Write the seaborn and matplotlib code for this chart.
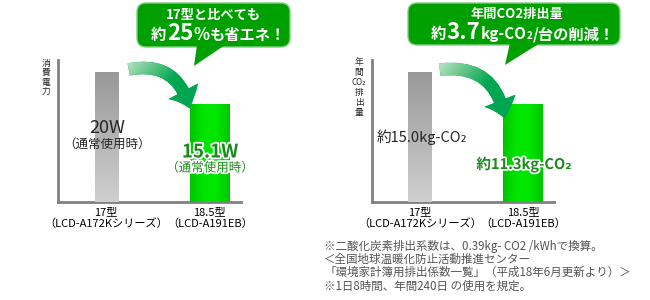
import numpy as np
import pandas as pd
import matplotlib
matplotlib.use("Agg")
import matplotlib.pyplot as plt
import seaborn as sns
from matplotlib.patches import FancyBboxPatch, Polygon, FancyArrowPatch
from matplotlib.colors import LinearSegmentedColormap
import matplotlib.patheffects as pe

sns.set_theme(style="white")
plt.rcParams['font.family'] = ['Noto Sans CJK JP', 'DejaVu Sans']

# ---- data ----
models = ["17型\n（LCD-A172Kシリーズ）", "18.5型\n（LCD-A191EB）"]
power_w = [20.0, 15.1]
co2_kg = [15.0, 11.3]
power_labels = ["20W", "15.1W"]
co2_labels = ["約15.0kg-CO₂", "約11.3kg-CO₂"]
usage_note = "（通常使用時）"
callout_left_title = "17型と比べても"
callout_left = ["約", "25", "%", "も省エネ！"]
callout_right_title = "年間CO2排出量"
callout_right = ["約", "3.7", "kg-CO", "2", "/台の削減！"]
ylabel_left = ["消", "費", "電", "力"]
ylabel_right = ["年", "間", "CO₂", "排", "出", "量"]
footnotes = [
    "※二酸化炭素排出系数は、0.39kg- CO2 /kWhで換算。",
    "＜全国地球温暖化防止活動推進センター",
    "「環境家計簿用排出係数一覧」（平成18年6月更新より）＞",
    "※1日8時間、年間240日 の使用を規定。",
]

W, H = 650, 300
fig = plt.figure(figsize=(6.5, 3.0), dpi=100)
fig.patch.set_facecolor("white")

GREEN_BOX = "#00a000"
GREEN_TXT = "#1a8a1a"


def px_axes(x0, y0, x1, y1):
    return fig.add_axes([x0 / W, 1 - y1 / H, (x1 - x0) / W, (y1 - y0) / H])


def bar_panel(ax, values, ylim_top, widths):
    df = pd.DataFrame({"model": models, "value": values})
    sns.barplot(data=df, x="model", y="value", hue="model",
                palette=["#b0b0b0", "#00dd00"], legend=False, ax=ax,
                saturation=1, width=0.3)
    ax.set_xlim(-0.466, 1.301)
    ax.set_ylim(0, ylim_top)
    patches = sorted([p for p in ax.patches], key=lambda p: p.get_x())
    grad_gray = LinearSegmentedColormap.from_list("g", ["#999999", "#cfcfcf"])
    grad_green = LinearSegmentedColormap.from_list(
        "gr", ["#00c400", "#00e600", "#00e600", "#00c400"])
    for i, p in enumerate(patches):
        cx = p.get_x() + p.get_width() / 2
        p.set_width(widths[i])
        p.set_x(cx - widths[i] / 2)
        p.set_linewidth(0)
        x0, x1 = p.get_x(), p.get_x() + p.get_width()
        y0, y1 = 0, p.get_height()
        if i == 0:
            img = np.linspace(0, 1, 100).reshape(-1, 1)
            im = ax.imshow(img, cmap=grad_gray, extent=(x0, x1, y0, y1),
                           origin="upper", aspect="auto", zorder=3)
        else:
            img = np.linspace(0, 1, 100).reshape(1, -1)
            im = ax.imshow(img, cmap=grad_green, extent=(x0, x1, y0, y1),
                           origin="upper", aspect="auto", zorder=3)
        im.set_clip_path(p)
    ax.set_xlim(-0.466, 1.301)
    ax.set_ylim(0, ylim_top)
    for s in ["top", "right"]:
        ax.spines[s].set_visible(False)
    for s in ["left", "bottom"]:
        ax.spines[s].set_color("#808080")
        ax.spines[s].set_linewidth(2)
    ax.set_yticks([])
    ax.set_xlabel("")
    ax.set_ylabel("")
    ax.tick_params(axis="x", length=0, pad=4, labelsize=8, colors="#000000")
    for t in ax.get_xticklabels():
        t.set_linespacing(1.05)
    ax.set_facecolor("white")


axL = px_axes(58, 60, 241, 202)
bar_panel(axL, power_w, 20 * 142 / 130, [23 / 103, 39 / 103])
axR = px_axes(372, 60, 554, 202)
bar_panel(axR, co2_kg, 15 * 142 / 130, [23 / 102.5, 39 / 102.5])

# ---- overlay in pixel coordinates ----
ov = fig.add_axes([0, 0, 1, 1])
ov.set_xlim(0, W)
ov.set_ylim(H, 0)
ov.axis("off")

outline = [pe.withStroke(linewidth=2.5, foreground="white")]

# stacked y labels
for i, ch in enumerate(ylabel_left):
    ov.text(46, 63.5 + i * 9.3, ch, ha="center", va="center", fontsize=6.3)
for i, ch in enumerate(ylabel_right):
    ov.text(359, 63 + i * 9.9, ch, ha="center", va="center",
            fontsize=6.3 if len(ch) == 1 else 5.8)

# bar labels left
ov.text(107, 128, power_labels[0], ha="center", va="center", fontsize=13)
ov.text(107, 144, usage_note, ha="center", va="center", fontsize=9)
ov.text(210, 152, power_labels[1], ha="center", va="center", fontsize=13.5,
        fontweight="bold", color=GREEN_TXT, path_effects=outline)
ov.text(210, 168, usage_note, ha="center", va="center", fontsize=9,
        color=GREEN_TXT, path_effects=outline)

# bar labels right
ov.text(422, 137, co2_labels[0], ha="center", va="center", fontsize=10.5)
ov.text(524, 164, co2_labels[1], ha="center", va="center", fontsize=10.5,
        fontweight="bold", color=GREEN_TXT, path_effects=outline)


def callout(x0, y0, x1, y1, tail):
    box = FancyBboxPatch((x0, y0), x1 - x0, y1 - y0,
                         boxstyle="round,pad=0,rounding_size=9",
                         facecolor=GREEN_BOX, edgecolor="#7fcf7f", linewidth=1,
                         zorder=5)
    ov.add_patch(box)
    ov.add_patch(Polygon(tail, closed=True, facecolor=GREEN_BOX,
                         edgecolor="none", zorder=6))


callout(137, 3, 290, 47, [(197, 45), (225, 45), (194, 66)])
callout(408, 3, 620, 45, [(510, 43), (540, 43), (505, 65)])

renderer = fig.canvas.get_renderer()


def chain(x, y, parts, sizes, gap=0.5):
    for s, fs in zip(parts, sizes):
        t = ov.text(x, y, s, ha="left", va="baseline", fontsize=fs,
                    color="white", fontweight="bold", zorder=7)
        bb = t.get_window_extent(renderer)
        x += bb.width + gap  # 1 px per data unit


ov.text(213, 15, callout_left_title, ha="center", va="center", fontsize=9.5,
        color="white", fontweight="bold", zorder=7)
chain(151, 40, callout_left, [11, 16, 12, 11])

ov.text(517, 14, callout_right_title, ha="center", va="center", fontsize=9.5,
        color="white", fontweight="bold", zorder=7)
chain(431, 39, callout_right, [11, 16, 11, 7, 11], gap=0.3)

# curved gradient arrows
arrow_cmap = LinearSegmentedColormap.from_list("a", ["#ffffff", "#7fcf9a", "#00a651", "#00a651"])


def grad_arrow(p0, p1, rad):
    arr = FancyArrowPatch(p0, p1, connectionstyle=f"arc3,rad={rad}",
                          arrowstyle="simple,head_length=13,head_width=24,tail_width=9",
                          facecolor="#00a651", edgecolor="none", zorder=4)
    ov.add_patch(arr)
    xs = np.linspace(0, 1, 120)
    ys = np.linspace(0, 1, 120)
    X, Y = np.meshgrid(xs, ys)
    G = np.clip((X * 0.6 + Y * 0.4) * 1.2, 0, 1)
    ex0, ex1 = p0[0] - 8, p1[0] + 20
    ey0, ey1 = p0[1] - 25, p1[1] + 5
    im = ov.imshow(G, cmap=arrow_cmap, extent=(ex0, ex1, ey1, ey0),
                   origin="upper", aspect="auto", zorder=4.5)
    im.set_clip_path(arr)


grad_arrow((126, 70), (190, 111), -0.5)
grad_arrow((437, 70), (505, 121), -0.5)

ov.set_xlim(0, W)
ov.set_ylim(H, 0)

# footnotes
for i, line in enumerate(footnotes):
    ov.text(324, 246 + i * 13.3, line, ha="left", va="center", fontsize=8.3,
            color="#555555")

fig.savefig("out.png", dpi=100, facecolor="white")
